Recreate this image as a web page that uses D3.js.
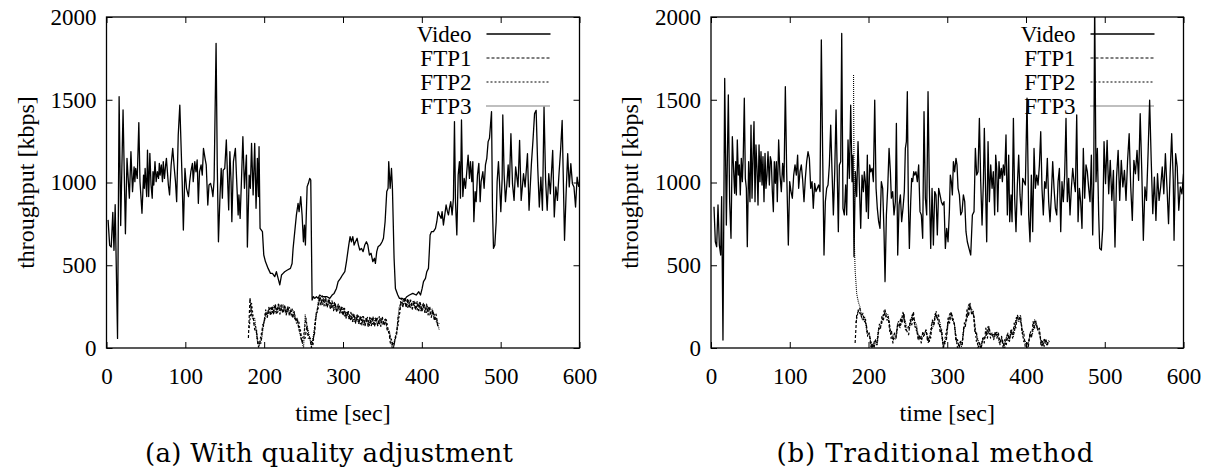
<!DOCTYPE html>
<html>
<head>
<meta charset="utf-8">
<script src="https://cdn.jsdelivr.net/npm/d3@7"></script>
<style>
  body { margin: 0; background: #fff; }
</style>
</head>
<body>
<svg id="chart" width="1211" height="468"></svg>
<script>
// ---- data (time [sec], throughput [kbps]) ----
const xTicks = [0, 100, 200, 300, 400, 500, 600];
const yTicks = [0, 500, 1000, 1500, 2000];
const seriesNames = ["Video", "FTP1", "FTP2", "FTP3"];
const captions = ["(a) With quality adjustment", "(b) Traditional method"];

// (a) with quality adjustment
const videoA = [
  [2,774],[4,620],[6,610],[8,820],[9.5,590],[11,866],[12,600],[14,58],[16,1518],[18,740],[21,1438],[24,690],
  [26,1146],[27,1065],[29,905],[31,1186],[33,945],[35,1095],[36,1005],[37,1085],[39,1025],[41,1362],[42.5,1005],[45,814],
  [47,1045],[48,965],[49,1085],[51,915],[52,1196],[53.5,915],[55,1176],[56.5,985],[58,905],[59,1065],[60,985],[61.5,1126],
  [63,1005],[64.5,1065],[66,1025],[67,1116],[68,1045],[69.5,1106],[71,1005],[72,1126],[73.5,1025],[75,1106],[76,1146],[78.5,985],
  [80,925],[82,1106],[84,1206],[86,1085],[87.5,1005],[89,884],[91,1287],[93,1468],[96,1005],[97.5,713],[99.5,1085],[101.5,965],
  [104,915],[105.5,1005],[107,1065],[109,1116],[110,1005],[112,1126],[113.5,1065],[115,1136],[116.5,874],[118,1065],[120,1106],[121.5,1045],
  [123,1206],[125,1146],[126.5,1106],[128.5,864],[130,985],[132,995],[133.5,965],[135,915],[136.5,1015],[139,1841],[140.5,1106],[142,642],
  [144,925],[145.5,1085],[147,905],[148,1075],[150,1085],[152,1257],[154,965],[155,834],[156.5,1186],[158,1005],[159,763],[161,1126],
  [163.5,1206],[165,1025],[167,804],[168,925],[169.5,783],[171,985],[173,1277],[175,965],[177.5,1166],[178.7,610],[181,1045],[182.5,965],
  [184,1237],[186,925],[188,1237],[189.7,844],[191.4,1146],[192.7,915],[193.5,1216],[194.8,723],[197.8,703],[199.5,562],[201.6,522],[205,481],
  [208,451],[210.5,451],[213.4,431],[215.5,461],[217.7,421],[219.8,381],[222,441],[224,451],[226,461],[229.5,471],[233.3,481],[235.4,511],
  [236.7,602],[238.8,703],[240.9,804],[243,874],[244.3,824],[246.4,915],[248.1,804],[249.8,642],[251.1,743],[252.3,622],[254.5,975],[256.1,995],
  [257.8,1025],[259.1,1015],[260.8,290],[262.5,310],[264.2,300],[266.3,310],[268.4,300],[270.5,320],[273.5,310],[276.9,310],[279.8,310],[283.2,300],
  [286.2,320],[288.7,330],[291.7,360],[293.8,401],[296.8,421],[299.3,441],[302.3,461],[304.4,522],[307.3,622],[309,673],[310.7,642],[312.4,673],
  [314.1,622],[315.8,642],[317.9,663],[319.6,622],[321.3,592],[323.4,602],[325.5,582],[327.6,622],[329.7,642],[331.5,622],[333.5,562],[335.6,572],
  [337.8,522],[339.9,542],[341.1,511],[342.8,582],[344.5,612],[347.1,622],[349.6,642],[351.3,663],[353.4,763],[355.5,945],[357.2,965],[358,1126],
  [359.8,965],[361.5,1085],[362.7,965],[364.8,542],[366.5,360],[369.5,320],[371.6,300],[375,300],[378,290],[380.9,310],[384.3,320],[388.5,330],
  [392.8,320],[396.1,340],[398.3,320],[400.4,360],[402.1,401],[404.6,421],[406.3,461],[408.4,481],[409.7,602],[410.5,683],[412.2,703],[414.7,703],
  [417.3,723],[419,763],[420.7,824],[422.4,804],[424.5,783],[425.7,824],[427.4,743],[429.1,804],[430.8,864],[432.5,824],[433.8,804],[435,844],
  [436.7,884],[438.4,804],[440.1,905],[441.4,1368],[442.7,884],[444.4,683],[446.1,1045],[447.7,1126],[449,905],[450.3,1378],[452,915],[453.7,1025],
  [455.4,965],[457,1065],[458.7,1166],[460.4,1025],[461.7,1126],[463.4,1005],[464.7,1126],[466,763],[467.6,945],[468.9,884],[470.6,1045],[472.3,1116],
  [474,884],[475.2,1005],[477.4,1065],[479,965],[480.7,1106],[482.4,1146],[484.1,1247],[485.8,1267],[487.1,1347],[488.4,1428],[489.6,844],[490.9,602],
  [492.6,622],[494.3,763],[495.5,1005],[497.2,1126],[498.5,1005],[500.2,824],[501.9,1025],[502.7,1408],[504.4,1045],[506.1,884],[507.8,985],[509.5,1106],
  [511,973],[513,1295],[515,993],[517,892],[519,1094],[522,973],[524,1255],[526,892],[529,1053],[531,973],[534,1174],[536,832],
  [539,1114],[541,1255],[543,1416],[545,1436],[547,1094],[549,852],[551,1033],[553,832],[555,1456],[557,1013],[559,832],[561,1053],
  [563,932],[566,1194],[568,792],[570,973],[572,892],[574,1053],[576,1194],[578,1375],[581,651],[583,932],[585,1174],[587,973],
  [589,1114],[591,993],[593,973],[595,852],[597,1033],[599,973]
];
const ftp1A = [
  [180,60],[182,300],[184,200],[186,190],[188,110],[190,110],[192,20],[194,30],[196,30],[198,140],[200,150],[202,220],
  [204,185],[206,245],[208,195],[210,255],[212,200],[214,260],[216,210],[218,265],[220,205],[222,260],[224,210],[226,255],
  [228,200],[230,250],[232,195],[234,235],[236,180],[238,215],[240,160],[242,180],[244,110],[246,110],[248,30],[250,60],
  [252,60],[254,130],[256,60],[258,60],[260,0],[262,50],[264,90],[266,210],[268,240],[270,310],[272,260],[274,315],
  [276,255],[278,305],[280,245],[282,295],[284,240],[286,285],[288,225],[290,275],[292,215],[294,265],[296,210],[298,255],
  [300,195],[302,240],[304,180],[306,225],[308,170],[310,215],[312,160],[314,205],[316,150],[318,200],[320,145],[322,195],
  [324,140],[326,190],[328,135],[330,185],[332,130],[334,185],[336,135],[338,190],[340,130],[342,185],[344,135],[346,190],
  [348,130],[350,185],[352,135],[354,175],[356,110],[358,110],[360,30],[362,40],[364,0],[366,50],[368,80],[370,190],
  [372,210],[374,300],[376,250],[378,305],[380,245],[382,300],[384,240],[386,290],[388,235],[390,285],[392,230],[394,280],
  [396,225],[398,275],[400,220],[402,270],[404,215],[406,265],[408,200],[410,250],[412,185],[414,230],[416,165],[418,205],
  [420,135],[422,150]
];
const ftp2A = [
  [181,120],[184,270],[187,150],[190,120],[193,0],[196,80],[199,130],[202,230],[205,200],[208,250],[211,210],[214,265],
  [217,215],[220,260],[223,215],[226,255],[229,210],[232,245],[235,200],[238,220],[241,150],[244,160],[247,50],[250,70],
  [253,180],[256,80],[259,50],[262,20],[265,180],[268,230],[271,305],[274,260],[277,310],[280,250],[283,290],[286,240],
  [289,275],[292,225],[295,260],[298,210],[301,240],[304,185],[307,220],[310,165],[313,210],[316,155],[319,200],[322,145],
  [325,190],[328,140],[331,185],[334,135],[337,185],[340,135],[343,185],[346,140],[349,185],[352,140],[355,170],[358,90],
  [361,60],[364,0],[367,80],[370,140],[373,280],[376,250],[379,300],[382,245],[385,290],[388,240],[391,280],[394,230],
  [397,275],[400,225],[403,265],[406,215],[409,250],[412,200],[415,215],[418,160],[421,150]
];
const ftp3A = [
  [182,300],[185,180],[188,180],[191,50],[194,20],[197,60],[200,170],[203,195],[206,240],[209,205],[212,255],[215,210],
  [218,260],[221,220],[224,265],[227,210],[230,250],[233,200],[236,235],[239,170],[242,180],[245,90],[248,40],[250,0],
  [252,200],[254,140],[257,80],[260,10],[263,90],[266,190],[269,290],[272,265],[275,300],[278,255],[281,290],[284,240],
  [287,275],[290,230],[293,255],[296,215],[299,245],[302,190],[305,220],[308,175],[311,205],[314,160],[317,195],[320,150],
  [323,190],[326,140],[329,180],[332,135],[335,180],[338,140],[341,185],[344,135],[347,180],[350,140],[353,175],[356,120],
  [359,100],[362,0],[365,40],[368,90],[371,240],[374,270],[377,295],[380,250],[383,290],[386,240],[389,285],[392,235],
  [395,270],[398,225],[401,265],[404,215],[407,255],[410,200],[413,235],[416,170],[419,180],[422,110]
];

// (b) traditional method
const videoB = [
  [3.8,854],[5.5,642],[7.2,612],[8.9,864],[10.6,622],[12.3,562],[13.5,915],[15.2,48],[17.4,1629],[19.5,743],[22,1529],[23.7,884],
  [25.4,663],[27.1,1277],[28.8,1065],[30,935],[31.3,1126],[32.2,925],[33.4,1257],[34.7,1045],[36,1106],[37.2,925],[38.5,1146],[39.8,1005],
  [41,1166],[42.3,1509],[43.6,1025],[44.9,965],[46.1,612],[47.8,1126],[49.5,884],[50.8,1347],[52.1,905],[53.3,1146],[54.6,1368],[55.9,884],
  [57.1,1227],[58.4,1085],[59.7,864],[61,1227],[62.2,1005],[63.5,1186],[64.8,985],[66,1156],[67.3,884],[68.6,1176],[69.8,965],[71.1,1045],
  [72.4,1186],[74.1,985],[75.3,1156],[76.6,1126],[77.9,945],[79.2,824],[80.4,1126],[81.7,995],[83,1126],[84.2,884],[85.9,1257],[87.6,1045],
  [89.3,945],[91,1116],[92.7,1005],[94.4,1579],[96.1,1065],[98.2,622],[99.9,1005],[101.6,945],[103.3,905],[105,1045],[106.7,1106],[108.4,1045],
  [110,1166],[111.3,965],[113,1065],[114.7,1106],[116.4,1015],[118.1,884],[119.8,1025],[121.5,1126],[123.2,1186],[124.9,1146],[126.6,965],[128.3,1005],
  [129.9,844],[131.6,995],[133.3,945],[135,965],[136.7,985],[138.4,945],[140.1,1861],[141.8,1166],[143.5,562],[145.2,884],[146.9,965],[148.6,985],
  [150.3,1106],[152,1347],[153.7,1065],[155.4,804],[157.1,1065],[158.8,1438],[160.5,1005],[161.7,703],[163,1106],[164.7,1126],[166,1901],[167.6,844],
  [169.3,804],[171,985],[172.3,804],[174,1257],[175.7,1025],[177.4,1468],[179.1,1005],[180.3,1166],[181.6,552],[183.3,1065],[185,915],[186.7,1247],
  [188.4,985],[190.1,723],[191.8,1045],[193.5,945],[194.7,1065],[196,1005],[197.3,824],[198.5,1166],[199.8,783],[201.5,1106],[202.8,1065],[204.5,1085],
  [206.2,1005],[207.9,1498],[209.6,965],[211.2,844],[212.9,763],[214.6,723],[216.3,1005],[218,965],[219.7,703],[221,401],[222.7,804],[224.4,965],
  [226.1,1206],[227.8,1065],[229,905],[230.7,945],[232.4,804],[234.1,884],[235.4,1357],[237.1,562],[238.8,864],[240.5,925],[242.1,763],[243.8,844],
  [245.5,945],[246.8,1206],[248.1,1247],[249.3,1549],[250.6,884],[251.9,602],[253.6,884],[254.8,1025],[256.1,1005],[257.4,1065],[258.7,1045],[260.3,1065],
  [262,1005],[263.7,1106],[265.4,824],[267.1,804],[268.8,663],[270.5,1428],[272.2,905],[273.9,804],[275.6,1549],[277.3,965],[279,602],[280.7,965],
  [282.4,622],[284.1,945],[285.7,925],[287.4,683],[289.1,965],[290.8,925],[292.5,884],[294.2,864],[295.9,884],[297.6,602],[299.3,723],[301,642],
  [302.7,824],[303.9,1045],[305.2,1005],[306.5,925],[307.8,1126],[309.4,1065],[311.1,1146],[312.4,1106],[313.7,965],[315.4,925],[317.1,804],[318.8,824],
  [320.5,925],[322.2,884],[323.8,703],[325.5,642],[327.6,602],[329.8,562],[331.9,804],[334,824],[335.7,1206],[337.4,1045],[339.1,1065],[340.8,1388],
  [342.5,1005],[344.2,743],[345.9,1005],[347.1,1327],[348.8,925],[350.1,642],[351.8,1247],[353.5,884],[355.2,1106],[356.9,965],[358.5,1065],[360.2,804],
  [361.5,1166],[362.8,1085],[364.1,824],[365.7,1126],[367,1025],[368.7,1085],[370,1005],[371.2,1106],[372.9,1045],[374.6,1287],[376.3,804],[378,1166],
  [379.3,763],[381,925],[382.3,763],[384,1388],[385.6,905],[387.3,703],[389,985],[390.7,1166],[392.4,925],[394.1,804],[395.8,1025],[397.5,1005],
  [399.2,985],[401.3,1509],[403.4,804],[405.1,642],[406.8,1045],[408.5,703],[410.2,1206],[411.9,965],[413.6,1045],[415.3,985],[417,1106],[418.7,1307],
  [420.3,965],[422,804],[423.7,1005],[425.4,965],[427.1,1146],[428.8,884],[430.5,763],[432.2,925],[433.9,1126],[435.6,965],[437.3,844],[439,804],
  [440.7,1005],[442.4,1085],[444.1,703],[445.7,1005],[447.4,884],[449.1,1045],[450.8,1388],[452.5,884],[454.2,1025],[455.9,804],[457.6,965],[459.3,1085],
  [461,1005],[462.7,945],[464.4,1408],[466.1,763],[467.8,965],[469.4,884],[471.1,723],[472.8,1206],[474.5,905],[476.2,1106],[477.9,1065],[479.6,965],
  [481.3,884],[483,1166],[484.7,683],[486,1005],[487.2,2100],[488.9,1005],[490.6,1206],[492.3,804],[493.6,602],[495.7,592],[497.4,723],[499.1,1247],
  [501,993],[503,1255],[505,932],[507,1134],[509,892],[511,1073],[513,610],[515,1033],[517,1194],[519,892],[521,1134],[523,973],
  [525,1073],[527,892],[529,1134],[531,1295],[533,973],[535,771],[537,1134],[539,1053],[541,1194],[543,1013],[545,1416],[547,1073],
  [549,651],[551,973],[553,892],[555,1174],[557,1497],[559,1134],[561,812],[563,1033],[565,771],[567,1053],[569,892],[571,973],
  [573,1094],[575,932],[577,1174],[579,973],[581,751],[583,1053],[585,1295],[587,1013],[588,651],[590,1174],[592,1094],[594,832],
  [596,973],[598,932],[600,1053]
];
const ftp1B = [
  [183,30],[185,200],[187,220],[189,240],[191,190],[193,210],[195,160],[197,150],[199,80],[201,90],[203,10],[205,30],
  [207,0],[209,50],[211,30],[213,120],[215,110],[217,190],[219,170],[221,230],[223,180],[225,190],[227,100],[229,110],
  [231,30],[233,90],[235,70],[237,140],[239,130],[241,180],[243,150],[245,210],[247,120],[249,100],[251,80],[253,170],
  [255,140],[257,220],[259,130],[261,120],[263,50],[265,80],[267,30],[269,100],[271,80],[273,110],[275,40],[277,70],
  [279,60],[281,170],[283,140],[285,210],[287,180],[289,200],[291,90],[293,110],[295,0],[297,40],[299,50],[301,180],
  [303,150],[305,220],[307,160],[309,150],[311,40],[313,50],[315,0],[317,40],[319,20],[321,130],[323,130],[325,230],
  [327,190],[329,270],[331,200],[333,220],[335,100],[337,100],[339,0],[341,30],[343,0],[345,60],[347,30],[349,120],
  [351,60],[353,130],[355,80],[357,90],[359,50],[361,100],[363,60],[365,90],[367,20],[369,70],[371,0],[373,50],
  [375,20],[377,90],[379,40],[381,110],[383,60],[385,150],[387,120],[389,200],[391,170],[393,190],[395,90],[397,100],
  [399,10],[401,30],[403,10],[405,90],[407,60],[409,160],[411,120],[413,150],[415,110],[417,120],[419,20],[421,40],
  [423,10],[425,55],[427,20],[429,45]
];
const ftp2B = [
  [184,150],[187,230],[190,200],[193,170],[196,180],[199,70],[202,60],[205,0],[208,50],[211,20],[214,150],[217,150],
  [220,230],[223,170],[226,170],[229,50],[232,60],[235,60],[238,160],[241,140],[244,220],[247,110],[250,120],[253,150],
  [256,210],[259,130],[262,90],[265,50],[268,60],[271,80],[274,90],[277,30],[280,140],[283,140],[286,220],[289,140],
  [292,120],[295,0],[298,80],[301,150],[304,210],[307,190],[310,110],[313,0],[316,35],[319,20],[322,160],[325,170],
  [328,270],[331,220],[334,190],[337,40],[340,35],[343,0],[346,60],[349,70],[352,130],[355,60],[358,90],[361,70],
  [364,90],[367,35],[370,50],[373,0],[376,80],[379,50],[382,110],[385,90],[388,190],[391,170],[394,150],[397,40],
  [400,30],[403,30],[406,100],[409,110],[412,170],[415,110],[418,70],[421,10],[424,55],[427,20],[430,40]
];
const ftp3B = [
  [181,1650],[182,650],[183,470],[185,330],[187,280],[189,250],[192,170],[195,190],[198,90],[201,90],[204,0],[207,30],
  [210,20],[213,120],[216,140],[219,200],[222,210],[225,200],[228,90],[231,80],[234,50],[237,150],[240,120],[243,200],
  [246,170],[249,120],[252,120],[255,190],[258,170],[261,140],[264,50],[267,70],[270,70],[273,110],[276,30],[279,100],
  [282,130],[285,210],[288,180],[291,150],[294,40],[297,20],[300,100],[303,210],[306,180],[309,150],[312,30],[315,30],
  [318,10],[321,110],[324,160],[327,260],[330,240],[333,220],[336,100],[339,50],[342,0],[345,50],[348,60],[351,110],
  [354,90],[357,90],[360,65],[363,100],[366,30],[369,60],[372,5],[375,65],[378,40],[381,105],[384,70],[387,170],
  [390,160],[393,200],[396,70],[399,40],[402,0],[405,80],[408,80],[411,170],[414,120],[417,100],[420,10],[423,55],
  [426,20],[429,45]
];

// ---- layout ----
const FONT = "Liberation Serif, Times New Roman, Times, serif";
const CAPTION_FONT = "DejaVu Serif, Liberation Serif, serif";
const svg = d3.select("#chart");
const plotTop = 17, plotBottom = 348;
const panels = [
  { x0: 106.5, x1: 579.5,  capX: 329, capW: 368, caption: captions[0], series: [videoA, ftp1A, ftp2A, ftp3A] },
  { x0: 711,   x1: 1183.5, capX: 935, capW: 317, caption: captions[1], series: [videoB, ftp1B, ftp2B, ftp3B] }
];
const lineStyles = [
  { dash: null,  width: 1.3 },
  { dash: "3,2", width: 1.2 },
  { dash: "2,2", width: 1.2 },
  { dash: "1,1", width: 1.1 }
];

const y = d3.scaleLinear().domain([0, 2000]).range([plotBottom, plotTop]);

panels.forEach((p, pi) => {
  const x = d3.scaleLinear().domain([0, 600]).range([p.x0, p.x1]);
  const g = svg.append("g");

  // inward ticks on all four sides (gnuplot style)
  g.append("g").attr("transform", `translate(0,${plotBottom})`)
    .call(d3.axisBottom(x).tickValues(xTicks).tickFormat(d3.format("d"))
      .tickSize(-6).tickSizeOuter(0).tickPadding(20));
  g.append("g").attr("transform", `translate(${p.x0},0)`)
    .call(d3.axisLeft(y).tickValues(yTicks).tickFormat(d3.format("d"))
      .tickSize(-6).tickSizeOuter(0).tickPadding(10));
  g.append("g").attr("transform", `translate(0,${plotTop})`)
    .call(d3.axisTop(x).tickValues(xTicks).tickSize(-6).tickSizeOuter(0).tickFormat(""));
  g.append("g").attr("transform", `translate(${p.x1},0)`)
    .call(d3.axisRight(y).tickValues(yTicks).tickSize(-6).tickSizeOuter(0).tickFormat(""));
  g.selectAll(".domain").remove();
  g.selectAll(".tick line").attr("stroke", "#000");
  g.selectAll(".tick text")
    .attr("font-family", FONT)
    .attr("font-size", 23).attr("fill", "#000");

  // frame
  g.append("rect")
    .attr("x", p.x0).attr("y", plotTop)
    .attr("width", p.x1 - p.x0).attr("height", plotBottom - plotTop)
    .attr("fill", "none").attr("stroke", "#000").attr("stroke-width", 1.3);

  // axis labels
  g.append("text")
    .attr("x", (p.x0 + p.x1) / 2).attr("y", 421)
    .attr("text-anchor", "middle")
    .attr("font-family", FONT).attr("font-size", 24)
    .text("time [sec]");
  g.append("text")
    .attr("transform", `translate(${p.x0 - 73},${(plotTop + plotBottom) / 2}) rotate(-90)`)
    .attr("text-anchor", "middle")
    .attr("font-family", FONT).attr("font-size", 24)
    .text("throughput [kbps]");

  // caption
  g.append("text")
    .attr("x", p.capX).attr("y", 462)
    .attr("text-anchor", "middle")
    .attr("font-family", CAPTION_FONT).attr("font-size", 26)
    .attr("textLength", p.capW).attr("lengthAdjust", "spacing")
    .text(p.caption);

  // key
  const key = g.append("g");
  seriesNames.forEach((name, i) => {
    const ky = 34 + i * 24;
    key.append("text")
      .attr("x", p.x1 - 108).attr("y", ky + 8)
      .attr("text-anchor", "end")
      .attr("font-family", FONT).attr("font-size", 23)
      .text(name);
    key.append("line")
      .attr("x1", p.x1 - 93).attr("x2", p.x1 - 29)
      .attr("y1", ky).attr("y2", ky)
      .attr("stroke", "#000")
      .attr("stroke-width", lineStyles[i].width)
      .attr("stroke-dasharray", lineStyles[i].dash);
  });

  // data lines, clipped to plot area
  const clipId = "clip" + pi;
  svg.append("clipPath").attr("id", clipId)
    .append("rect")
    .attr("x", p.x0).attr("y", plotTop)
    .attr("width", p.x1 - p.x0).attr("height", plotBottom - plotTop);

  const line = d3.line().x(d => x(d[0])).y(d => y(d[1]));
  g.append("g").attr("clip-path", `url(#${clipId})`)
    .selectAll("path")
    .data(p.series)
    .join("path")
    .attr("d", line)
    .attr("fill", "none")
    .attr("stroke", "#000")
    .attr("stroke-width", (d, i) => lineStyles[i].width)
    .attr("stroke-dasharray", (d, i) => lineStyles[i].dash)
    .attr("stroke-linejoin", "round");
});
</script>
</body>
</html>
